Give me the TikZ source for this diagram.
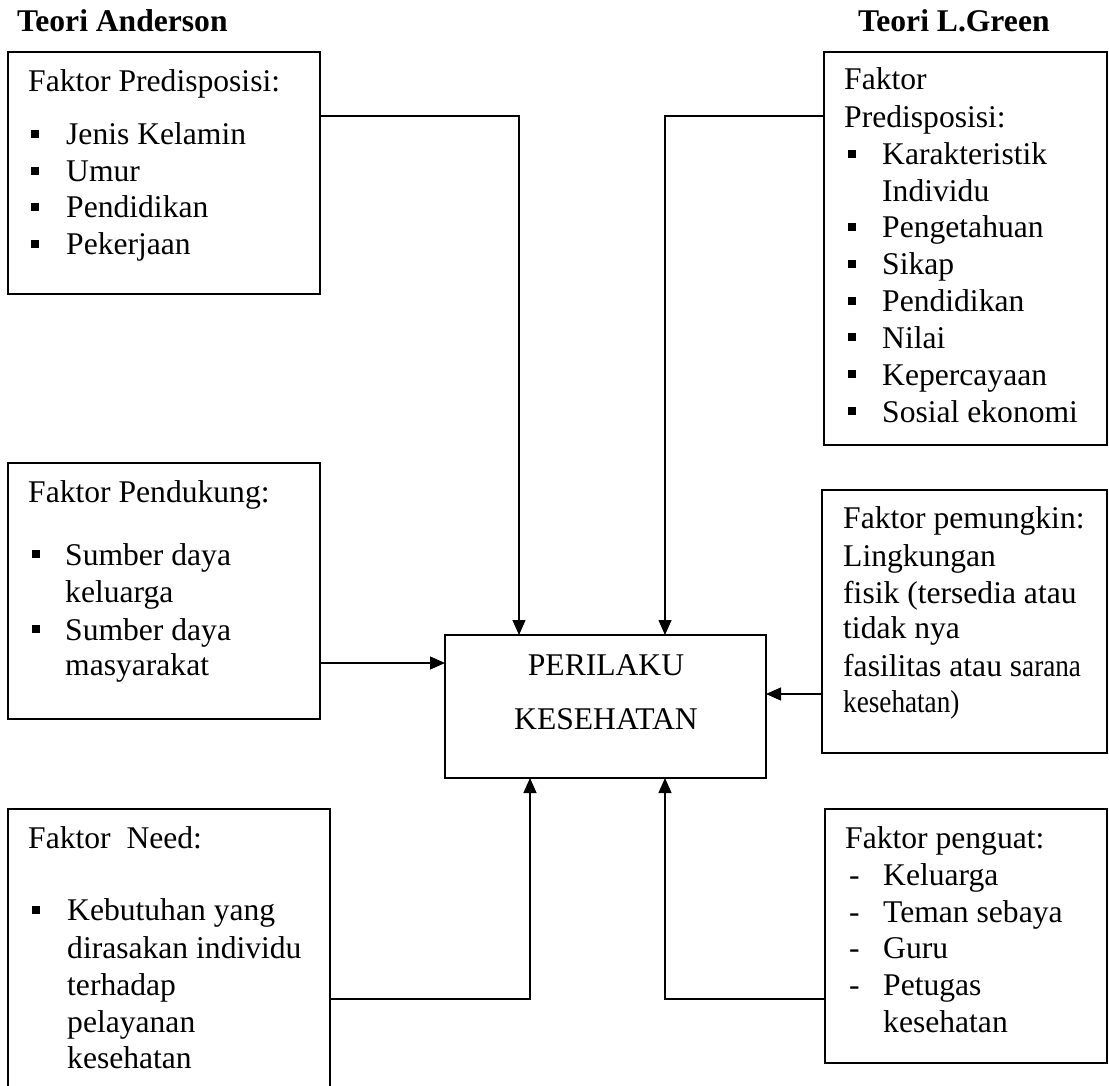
\documentclass[tikz,border=0pt]{standalone}
\usepackage{fontspec}
\usepackage{graphicx}
\setmainfont{Liberation Serif}
\usetikzlibrary{arrows.meta}
\newcommand{\cnd}[1]{\scalebox{0.86}[1]{#1}}
\begin{document}
\begin{tikzpicture}[x=1pt,y=-1pt,
  box/.style={draw,line width=1.4pt,rectangle,inner sep=0pt,outer sep=0pt,anchor=north west},
  txt/.style={anchor=base west,inner sep=0pt,font=\fontsize{31.6}{36}\selectfont},
  ttl/.style={anchor=base west,inner sep=0pt,font=\fontsize{31.6}{36}\selectfont\bfseries},
  ctr/.style={anchor=base,inner sep=0pt,font=\fontsize{31.6}{36}\selectfont},
  bul/.style={fill=black,rectangle,minimum size=8pt,inner sep=0pt},
  arr/.style={line width=1.2pt,-{Triangle[length=15pt,width=13pt]}}]
\useasboundingbox[fill=white] (0,0) rectangle (1109,1086);

% titles
\node[ttl] (t1) at (17,32) {Teori Anderson};
\node[ttl] (t2) at (858,32) {Teori L.Green};

% boxes
\node[box,minimum width=312pt,minimum height=242pt] (ap) at (8,52) {};
\node[box,minimum width=283pt,minimum height=393pt] (gp) at (824,52) {};
\node[box,minimum width=312pt,minimum height=256pt] (pd) at (8,463) {};
\node[box,minimum width=321pt,minimum height=143pt] (pk) at (445,635) {};
\node[box,minimum width=285pt,minimum height=263pt] (pm) at (822,490) {};
\node[box,minimum width=322pt,minimum height=300pt] (nd) at (8,809) {};
\node[box,minimum width=282pt,minimum height=254pt] (pg) at (825,809) {};

% Anderson predisposisi
\node[txt] (a0) at (28,92) {Faktor Predisposisi:};
\node[txt] (a1) at (66,145) {Jenis Kelamin};
\node[txt] (a2) at (66,182) {Umur};
\node[txt] (a3) at (66,218) {Pendidikan};
\node[txt] (a4) at (66,255) {Pekerjaan};
\node[bul] (ab1) at (35,134) {};
\node[bul] (ab2) at (35,171) {};
\node[bul] (ab3) at (35,207) {};
\node[bul] (ab4) at (35,244) {};

% Green predisposisi
\node[txt] (g0) at (844,90) {Faktor};
\node[txt] (g1) at (844,128) {Predisposisi:};
\node[txt] (g2) at (882,165) {Karakteristik};
\node[txt] (g3) at (882,202) {Individu};
\node[txt] (g4) at (882,238) {Pengetahuan};
\node[txt] (g5) at (882,275) {Sikap};
\node[txt] (g6) at (882,312) {Pendidikan};
\node[txt] (g7) at (882,348) {Nilai};
\node[txt] (g8) at (882,385) {Kepercayaan};
\node[txt] (g9) at (882,422) {Sosial ekonomi};
\node[bul] (gb2) at (852,154) {};
\node[bul] (gb4) at (852,227) {};
\node[bul] (gb5) at (852,264) {};
\node[bul] (gb6) at (852,301) {};
\node[bul] (gb7) at (852,337) {};
\node[bul] (gb8) at (852,374) {};
\node[bul] (gb9) at (852,411) {};

% Pendukung
\node[txt] (p0) at (28,502) {Faktor Pendukung:};
\node[txt] (p1) at (65,565) {Sumber daya};
\node[txt] (p2) at (65,602) {keluarga};
\node[txt] (p3) at (65,640) {Sumber daya};
\node[txt] (p4) at (65,675) {masyarakat};
\node[bul] (pb1) at (35.5,554) {};
\node[bul] (pb3) at (35.5,629) {};

% Perilaku
\node[ctr] (k1) at (606,675) {PERILAKU};
\node[ctr] (k2) at (606,729) {KESEHATAN};

% Pemungkin
\node[txt] (m0) at (843,528) {Faktor pemungkin:};
\node[txt] (m1) at (843,566) {Lingkungan};
\node[txt] (m2) at (843,603) {fisik (tersedia atau};
\node[txt] (m3) at (843,638) {tidak nya};
\node[txt] (m4) at (843,676) {fasilitas atau s\cnd{arana}};
\node[txt] (m5) at (843,712) {\cnd{kesehatan)}};

% Need
\node[txt] (n0) at (28,848) {Faktor\ \ Need:};
\node[txt] (n1) at (67,920) {Kebutuhan yang};
\node[txt] (n2) at (67,958) {dirasakan individu};
\node[txt] (n3) at (67,995) {terhadap};
\node[txt] (n4) at (67,1032) {pelayanan};
\node[txt] (n5) at (67,1068) {kesehatan};
\node[bul] (nb1) at (36,910) {};

% Penguat
\node[txt] (r0) at (845,848) {Faktor penguat:};
\node[txt] (rd1) at (849,885) {-};
\node[txt] (rd2) at (849,922) {-};
\node[txt] (rd3) at (849,958) {-};
\node[txt] (rd4) at (849,995) {-};
\node[txt] (r1) at (883,885) {Keluarga};
\node[txt] (r2) at (883,922) {Teman sebaya};
\node[txt] (r3) at (883,958) {Guru};
\node[txt] (r4) at (883,995) {Petugas};
\node[txt] (r5) at (883,1032) {kesehatan};

% connectors
\coordinate (c1) at (519,116);
\coordinate (c2) at (665,116);
\coordinate (c3) at (445,663);
\coordinate (c4) at (766,694);
\coordinate (c5) at (530,999);
\coordinate (c6) at (665,999);
\draw[arr] (ap.east |- c1) -| (pk.north -| c1);
\draw[arr] (gp.west |- c2) -| (pk.north -| c2);
\draw[arr] (pd.east |- c3) -- (pk.west |- c3);
\draw[arr] (pm.west |- c4) -- (pk.east |- c4);
\draw[arr] (nd.east |- c5) -| (pk.south -| c5);
\draw[arr] (pg.west |- c6) -| (pk.south -| c6);
\end{tikzpicture}
\end{document}
